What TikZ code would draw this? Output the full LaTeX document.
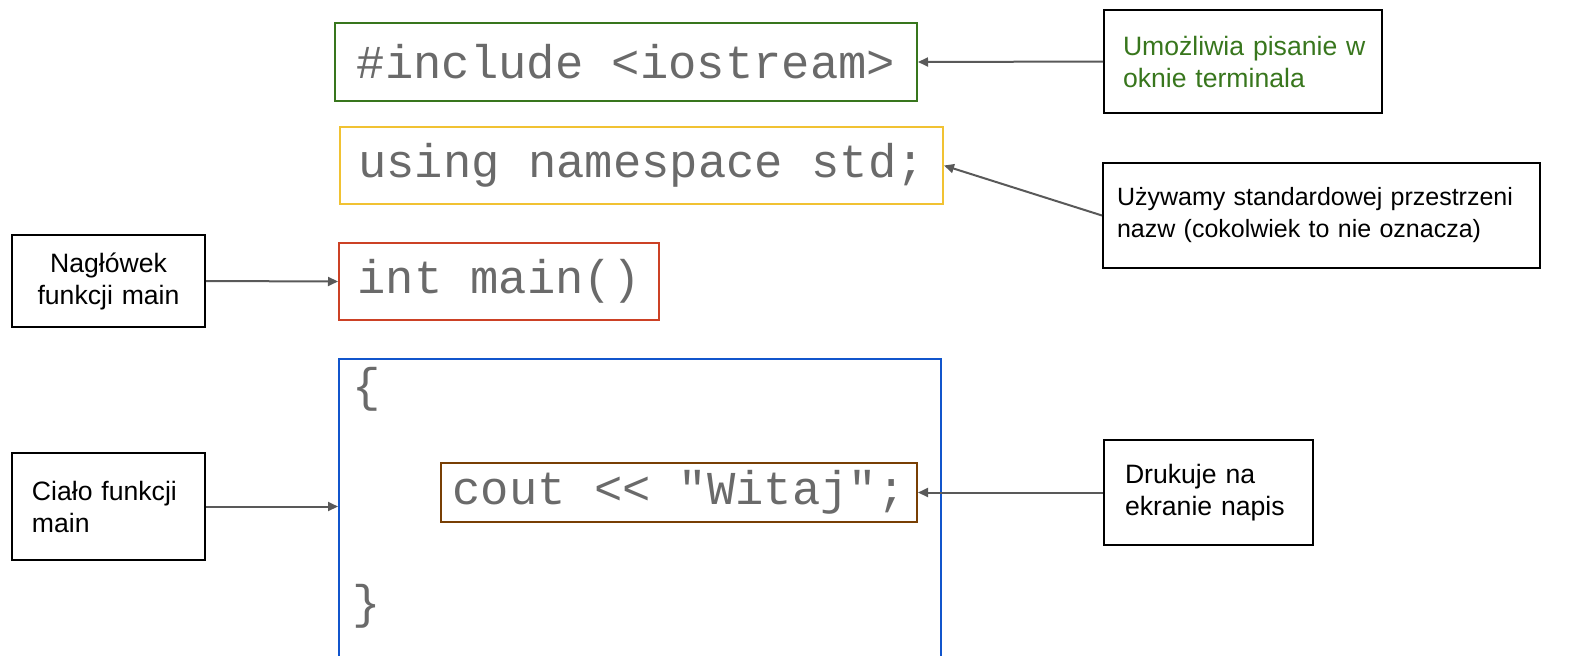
\documentclass[tikz,border=0pt]{standalone}
\usepackage{fontspec}
\setmainfont{Liberation Sans}
\setmonofont{Liberation Mono}
\usetikzlibrary{arrows.meta}
\definecolor{incgreen}{HTML}{38761D}
\definecolor{usingyellow}{HTML}{F1C232}
\definecolor{mainred}{HTML}{CC4125}
\definecolor{bodyblue}{HTML}{1155CC}
\definecolor{coutbrown}{HTML}{783F04}
\definecolor{codegray}{HTML}{6A6A6A}
\definecolor{arrowgray}{HTML}{595959}

\begin{document}
\begin{tikzpicture}[x=0.5pt,y=-0.5pt,
codebox/.style={draw=#1,line width=1pt,inner sep=0pt,text=codegray,
  font=\ttfamily\fontsize{23.6}{28}\selectfont},
codetext/.style={inner sep=0pt,text=codegray,font=\ttfamily\fontsize{23.6}{28}\selectfont},
note/.style={draw=black,line width=1pt,inner sep=0pt,align=left,
  font=\fontsize{13.3}{16}\selectfont},
link/.style={draw=arrowgray,line width=1pt,-{Triangle[length=5pt,width=4.5pt]}}]
\clip (0,0) rectangle (1575,655);
% kod programu
\node[codebox=incgreen,minimum width=291pt,minimum height=39pt] (include) at (626,62) {\#include <iostream>};
\node[codebox=usingyellow,minimum width=301.5pt,minimum height=38.5pt] (using) at (641.5,165.5) {using namespace std;};
\node[codebox=mainred,minimum width=160pt,minimum height=38.5pt] (intmain) at (499,281.5) {int main()};
\node[codebox=bodyblue,minimum width=301pt,minimum height=170pt,anchor=north west] (body) at (338,358) {};
\node[codetext,anchor=west] (open) at (352,389) {\{};
\node[codetext,anchor=west] (close) at (352,606) {\}};
\node[codebox=coutbrown,minimum width=238pt,minimum height=29.5pt] (cout) at (679,492.5) {cout << "Witaj";};
% opisy
\node[note,text=incgreen,minimum width=139pt,minimum height=51.5pt,text width=120pt] (iostreamnote) at (1243,61.5) {\mbox{Umożliwia pisanie w}\\oknie terminala};
\node[note,font=\fontsize{12.5}{16}\selectfont,minimum width=218.5pt,minimum height=52.5pt,text width=204.5pt] (stdnote) at (1321.5,215.5) {Używamy standardowej przestrzeni\\nazw (cokolwiek to nie oznacza)};
\node[note,align=center,minimum width=96.5pt,minimum height=46pt,text width=76.5pt] (headnote) at (108.5,281) {Nagłówek\\funkcji main};
\node[note,minimum width=96.5pt,minimum height=53.5pt,text width=76.5pt] (bodynote) at (108.5,506.5) {Ciało funkcji\\main};
\node[note,minimum width=104.5pt,minimum height=52.5pt,text width=83.5pt] (coutnote) at (1208.5,492.5) {Drukuje na\\ekranie napis};
% strzalki
\draw[link] (iostreamnote.west) -- (include.east);
\draw[link] (stdnote.west) -- (using.east);
\draw[link] (headnote.east) -- (intmain.west);
\draw[link] (bodynote.east) -- (bodynote.east -| body.west);
\draw[link] (coutnote.west) -- (cout.east);
\end{tikzpicture}
\end{document}
